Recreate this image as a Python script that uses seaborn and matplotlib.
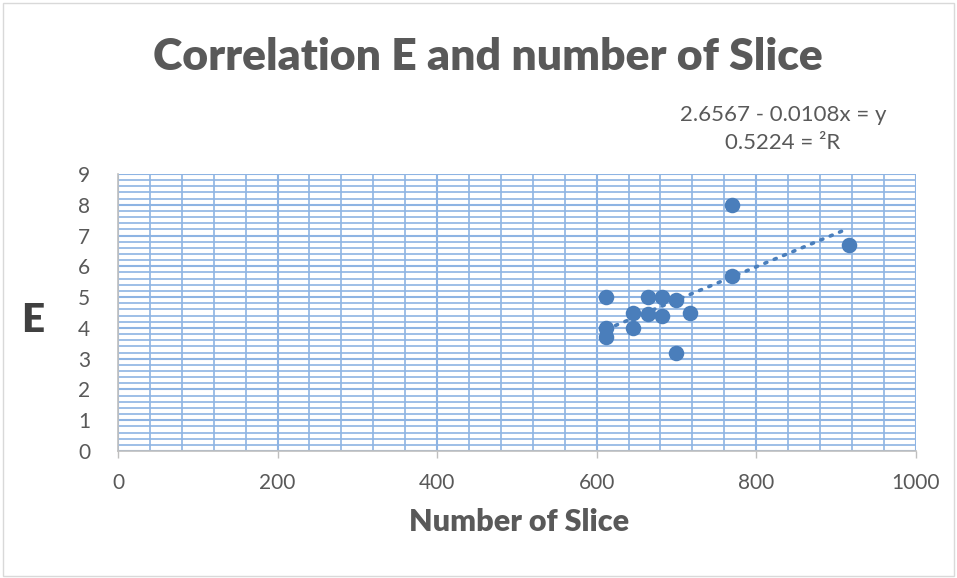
import numpy as np
import pandas as pd
import matplotlib
matplotlib.use("Agg")
import matplotlib.pyplot as plt
from matplotlib.ticker import MultipleLocator
from matplotlib.patches import Rectangle
import seaborn as sns

# Number of slices and the corresponding E values
slices = [612, 612, 612, 646, 646, 665, 665, 682, 682, 699, 700, 717, 770, 770, 916]
e_vals = [5.0, 4.0, 3.7, 4.5, 4.0, 5.0, 4.45, 5.0, 4.4, 4.9, 3.2, 4.5, 8.0, 5.7, 6.7]

# Linear trendline coefficients and fit quality
slope = 0.0108
intercept = -2.6567
r_squared = 0.5224

x_ticks = [0, 200, 400, 600, 800, 1000]
y_ticks = [0, 1, 2, 3, 4, 5, 6, 7, 8, 9]

df = pd.DataFrame({"slices": slices, "E": e_vals})

sns.set_theme(style="white")
plt.rcParams["font.family"] = ["Lato", "DejaVu Sans"]

text_gray = "#595959"
point_blue = "#4A7EBB"
grid_blue = "#8EB4E3"

fig = plt.figure(figsize=(9.57, 5.78), dpi=100)
ax = fig.add_axes([118 / 957, 1 - 451 / 578, (915.7 - 118) / 957, (451 - 174) / 578])

# Chart frame
fig.patches.append(Rectangle((3 / 957, 2 / 578), 951 / 957, 573 / 578, transform=fig.transFigure,
                             fill=False, edgecolor="#D9D9D9", linewidth=1.0))

ax.set_xlim(0, 1000)
ax.set_ylim(0, 9)
ax.xaxis.set_major_locator(MultipleLocator(200))
ax.xaxis.set_minor_locator(MultipleLocator(40))
ax.yaxis.set_major_locator(MultipleLocator(1))
ax.yaxis.set_minor_locator(MultipleLocator(0.2))
ax.set_xticks(x_ticks)
ax.set_yticks(y_ticks)

ax.grid(which="major", color=grid_blue, linewidth=1.5)
ax.grid(which="minor", color=grid_blue, linewidth=1.2)
ax.set_axisbelow(True)

for side in ["top", "right"]:
    ax.spines[side].set_visible(False)
ax.spines["left"].set_color("#BFBFBF")
ax.spines["bottom"].set_color("#BFBFBF")
ax.spines["left"].set_linewidth(1.2)
ax.spines["bottom"].set_linewidth(1.2)

ax.tick_params(axis="x", which="major", direction="out", length=5, width=1.0, color="#BFBFBF",
               labelsize=15, labelcolor=text_gray, pad=11, bottom=True)
ax.tick_params(axis="x", which="minor", length=0)
ax.tick_params(axis="y", which="both", length=0, labelsize=15, labelcolor=text_gray, pad=20, left=True)

# Trendline drawn from the stated coefficients
tx = np.array([min(slices), max(slices)])
ax.plot(tx, slope * tx + intercept, linestyle=(0, (0.6, 2.2)), dash_capstyle="round",
        color=point_blue, linewidth=2.6, zorder=2)

sns.scatterplot(data=df, x="slices", y="E", ax=ax, s=125, color=point_blue,
                edgecolor=point_blue, linewidth=0, zorder=3, legend=False)

ax.set_xlabel("")
ax.set_ylabel("")

fig.text(488 / 957, 1 - 57 / 578, "Correlation E and number of Slice", ha="center", va="center",
         fontsize=32, fontweight="heavy", color=text_gray)
fig.text(519 / 957, 1 - 522 / 578, "Number of Slice", ha="center", va="center",
         fontsize=22, fontweight="heavy", color=text_gray)
fig.text(33 / 957, 1 - 320 / 578, "E", ha="center", va="center",
         fontsize=29, fontweight="heavy", color="#404040")

fig.text(783 / 957, 1 - 115 / 578, f"{-intercept:.4f} - {slope:.4f}x = y", ha="center", va="center",
         fontsize=16, color=text_gray)
fig.text(783 / 957, 1 - 143 / 578, f"{r_squared:.4f} = \u00b2R", ha="center", va="center",
         fontsize=16, color=text_gray)

fig.savefig("out.png", dpi=100)
